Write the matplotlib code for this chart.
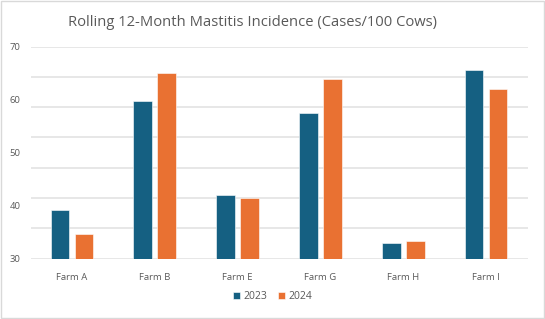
import numpy as np
import matplotlib.pyplot as plt

# data
farms = ['Farm A', 'Farm B', 'Farm E', 'Farm G', 'Farm H', 'Farm I']
y2023 = [39.2, 59.8, 42.0, 57.5, 32.9, 65.5]
y2024 = [34.7, 65.0, 41.4, 63.9, 33.3, 62.0]
series = ['2023', '2024']

blue = '#156082'
orange = '#E97132'
grey_text = '#595959'

plt.rcParams['font.family'] = ['Open Sans', 'DejaVu Sans']

fig = plt.figure(figsize=(5.45, 3.19), dpi=100)
ax = fig.add_axes([0.056, 0.189, 0.912, 0.665])

x = np.arange(len(farms))
w = 0.225
off = 0.145
ax.bar(x - off, y2023, width=w, color=blue, edgecolor='#ffffff', linewidth=0.4,
       label=series[0], zorder=3)
ax.bar(x + off, y2024, width=w, color=orange, edgecolor='#ffffff', linewidth=0.4,
       label=series[1], zorder=3)

ax.set_xlim(-0.5, len(farms) - 0.5)
ax.set_ylim(30, 70)

# gridlines sit at 7 equal steps, labels at every 10
for g in np.linspace(30, 70, 8):
    ax.axhline(g, color='#E3E3E3', linewidth=1.2, zorder=1)

ax.set_yticks([30, 40, 50, 60, 70])
ax.set_xticks(x)
ax.set_xticklabels(farms)
ax.tick_params(axis='both', length=0, labelsize=6.8, colors=grey_text)
ax.tick_params(axis='x', pad=10)
ax.tick_params(axis='y', pad=7)
for s in ax.spines.values():
    s.set_visible(False)

fig.text(0.464, 0.928, 'Rolling 12-Month Mastitis Incidence (Cases/100 Cows)',
         ha='center', va='center', fontsize=10.6, color=grey_text)

ax.legend(loc='center', bbox_to_anchor=(0.5, 0.07), bbox_transform=fig.transFigure,
          ncol=2, frameon=False, fontsize=7.5, labelcolor=grey_text,
          handlelength=0.7, handleheight=0.7, handletextpad=0.3, columnspacing=1.0)

# light border round the whole chart
fig.patches.append(plt.Rectangle((0.002, 0.003), 0.996, 0.994, transform=fig.transFigure,
                                 fill=False, edgecolor='#D9D9D9', linewidth=1))

plt.savefig('out.png', dpi=100)
